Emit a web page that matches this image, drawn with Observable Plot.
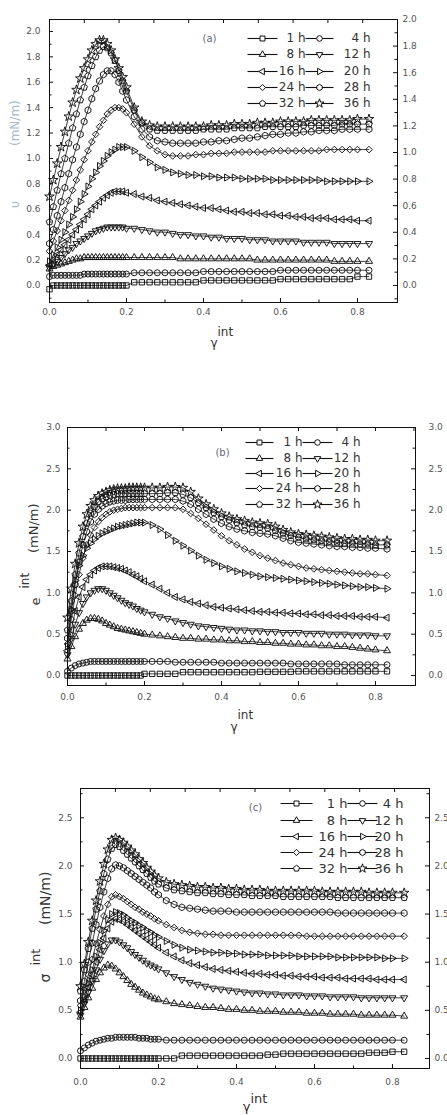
<!DOCTYPE html>
<html><head><meta charset="utf-8">
<script src="https://cdn.jsdelivr.net/npm/d3@7"></script>
<script src="https://cdn.jsdelivr.net/npm/@observablehq/plot@0.6"></script>
<style>
html,body{margin:0;padding:0;background:#fff;}
body{width:447px;height:1115px;overflow:hidden;}
#wrap{position:relative;width:447px;height:1115px;}
#wrap svg{position:absolute;left:0;max-width:none;overflow:visible;}
</style></head><body><div id="wrap"></div>
<script>
// ---------- shared x values (strain amplitude γ_int) ----------
const strain = [0,0.01,0.02,0.03,0.04,0.05,0.06,0.07,0.08,0.09,0.10,0.11,0.12,0.13,0.14,0.15,0.16,0.17,0.18,0.19,0.20,
  0.22,0.24,0.26,0.28,0.30,0.32,0.34,0.36,0.38,0.40,0.42,0.44,0.46,0.48,0.50,0.52,0.54,0.56,0.58,0.60,0.62,0.64,0.66,0.68,0.70,0.72,0.74,0.76,0.78,0.80,
  0.83];
const hours = ["1 h","4 h","8 h","12 h","16 h","20 h","24 h","28 h","32 h","36 h"];

// ---------- panel (a) ----------
const a1h = [-0.03,0,0,0,0,0,0,0,0,0,0,0,0,0,0,0,0,0,0,0,0,
  0.025,0.025,0.025,0.025,0.025,0.025,0.025,0.025,0.025,0.04,0.04,0.04,0.04,0.04,0.04,0.04,0.04,0.04,0.04,0.05,0.05,0.05,0.05,0.05,0.05,0.05,0.05,0.05,0.05,0.07,
  0.07];
const a4h = [0.07,0.08,0.08,0.08,0.08,0.08,0.08,0.08,0.08,0.09,0.09,0.09,0.09,0.09,0.09,0.09,0.09,0.09,0.09,0.09,0.09,
  0.10,0.10,0.10,0.10,0.10,0.10,0.10,0.10,0.10,0.11,0.11,0.11,0.11,0.11,0.11,0.11,0.11,0.11,0.11,0.12,0.12,0.12,0.12,0.12,0.12,0.12,0.12,0.12,0.12,0.12,
  0.12];
const a8h = [0.13,0.15,0.16,0.17,0.18,0.19,0.20,0.21,0.21,0.22,0.22,0.22,0.22,0.22,0.22,0.22,0.22,0.22,0.22,0.22,0.22,
  0.22,0.22,0.22,0.22,0.22,0.22,0.21,0.21,0.21,0.21,0.21,0.21,0.21,0.21,0.21,0.21,0.20,0.20,0.20,0.20,0.20,0.20,0.20,0.20,0.20,0.20,0.19,0.19,0.19,0.19,
  0.19];
const a12h = [0.14,0.17,0.19,0.22,0.25,0.28,0.30,0.33,0.35,0.37,0.39,0.41,0.43,0.44,0.45,0.46,0.46,0.46,0.46,0.46,0.45,
  0.45,0.44,0.43,0.42,0.42,0.41,0.40,0.40,0.39,0.39,0.38,0.38,0.37,0.37,0.37,0.36,0.36,0.36,0.35,0.35,0.35,0.35,0.34,0.34,0.34,0.34,0.33,0.33,0.33,0.33,
  0.33];
const a16h = [0.16,0.20,0.24,0.28,0.32,0.36,0.40,0.44,0.48,0.52,0.56,0.60,0.63,0.66,0.69,0.71,0.73,0.74,0.74,0.74,0.73,
  0.72,0.70,0.69,0.67,0.66,0.65,0.64,0.63,0.62,0.61,0.61,0.60,0.59,0.58,0.58,0.57,0.57,0.56,0.56,0.55,0.55,0.54,0.54,0.53,0.53,0.53,0.52,0.52,0.52,0.51,
  0.51];
const a20h = [0.19,0.24,0.30,0.36,0.42,0.48,0.54,0.60,0.66,0.72,0.78,0.84,0.89,0.94,0.98,1.02,1.05,1.07,1.09,1.09,1.09,
  1.06,1.01,0.97,0.93,0.91,0.89,0.88,0.87,0.87,0.86,0.86,0.85,0.85,0.85,0.84,0.84,0.84,0.84,0.83,0.83,0.83,0.83,0.83,0.83,0.83,0.82,0.82,0.82,0.82,0.82,
  0.82];
const a24h = [0.27,0.35,0.43,0.51,0.59,0.67,0.75,0.83,0.91,0.99,1.06,1.13,1.19,1.25,1.30,1.35,1.38,1.40,1.40,1.39,1.36,
  1.27,1.17,1.10,1.06,1.03,1.02,1.02,1.02,1.03,1.03,1.04,1.04,1.04,1.05,1.05,1.05,1.05,1.05,1.06,1.06,1.06,1.06,1.06,1.06,1.06,1.07,1.07,1.07,1.07,1.07,
  1.07];
const a28h = [0.33,0.44,0.55,0.66,0.77,0.88,0.99,1.09,1.19,1.29,1.38,1.47,1.55,1.61,1.66,1.69,1.69,1.66,1.60,1.53,1.46,
  1.33,1.23,1.17,1.14,1.13,1.12,1.12,1.12,1.12,1.13,1.13,1.14,1.14,1.15,1.16,1.16,1.17,1.18,1.19,1.19,1.20,1.20,1.21,1.21,1.22,1.22,1.22,1.23,1.23,1.23,
  1.23];
const a32h = [0.50,0.62,0.75,0.88,1.00,1.12,1.24,1.35,1.46,1.56,1.65,1.73,1.80,1.85,1.88,1.87,1.83,1.77,1.69,1.61,1.53,
  1.38,1.28,1.23,1.22,1.22,1.22,1.22,1.22,1.22,1.23,1.23,1.23,1.23,1.24,1.24,1.24,1.24,1.25,1.25,1.25,1.25,1.25,1.26,1.26,1.26,1.26,1.26,1.27,1.27,1.27,
  1.27];
const a36h = [0.70,0.83,0.96,1.09,1.21,1.33,1.44,1.54,1.63,1.71,1.78,1.85,1.90,1.93,1.93,1.90,1.85,1.78,1.71,1.64,1.56,
  1.40,1.29,1.26,1.25,1.25,1.25,1.25,1.25,1.25,1.25,1.26,1.26,1.26,1.27,1.27,1.27,1.28,1.28,1.28,1.29,1.29,1.29,1.29,1.30,1.30,1.30,1.30,1.30,1.30,1.31,
  1.31];

// ---------- panel (b) ----------
const b1h = [0,0,0,0,0,0,0,0,0,0,0,0,0,0,0,0,0,0,0,0,0.02,
  0.02,0.02,0.02,0.02,0.04,0.04,0.04,0.04,0.04,0.04,0.04,0.04,0.04,0.04,0.045,0.045,0.045,0.045,0.045,0.05,0.05,0.05,0.05,0.05,0.05,0.05,0.05,0.05,0.05,0.05,
  0.05];
const b4h = [0.05,0.09,0.12,0.14,0.15,0.16,0.17,0.17,0.17,0.17,0.17,0.17,0.17,0.17,0.17,0.17,0.17,0.17,0.17,0.17,0.17,
  0.17,0.17,0.17,0.16,0.16,0.16,0.16,0.16,0.16,0.15,0.15,0.15,0.15,0.15,0.15,0.15,0.15,0.15,0.14,0.14,0.14,0.14,0.14,0.14,0.14,0.13,0.13,0.13,0.13,0.13,
  0.13];
const b8h = [0.20,0.35,0.47,0.56,0.63,0.67,0.69,0.69,0.68,0.66,0.63,0.61,0.59,0.57,0.56,0.55,0.54,0.53,0.52,0.51,0.50,
  0.49,0.48,0.47,0.46,0.45,0.45,0.44,0.44,0.43,0.43,0.42,0.42,0.41,0.41,0.40,0.40,0.39,0.39,0.38,0.38,0.37,0.37,0.36,0.36,0.35,0.35,0.34,0.33,0.32,0.31,
  0.30];
const b12h = [0.25,0.45,0.62,0.76,0.87,0.95,1.00,1.03,1.05,1.05,1.03,1.00,0.97,0.94,0.91,0.88,0.86,0.84,0.81,0.79,0.77,
  0.74,0.71,0.69,0.66,0.64,0.62,0.60,0.59,0.58,0.57,0.56,0.55,0.55,0.54,0.54,0.53,0.53,0.52,0.52,0.52,0.51,0.51,0.51,0.50,0.50,0.50,0.49,0.49,0.49,0.48,
  0.48];
const b16h = [0.30,0.55,0.78,0.95,1.07,1.16,1.22,1.27,1.30,1.32,1.32,1.32,1.31,1.30,1.29,1.27,1.25,1.22,1.20,1.17,1.14,
  1.10,1.05,1.00,0.95,0.92,0.89,0.87,0.85,0.83,0.82,0.81,0.80,0.79,0.78,0.77,0.77,0.76,0.76,0.75,0.75,0.74,0.74,0.73,0.73,0.72,0.72,0.72,0.71,0.71,0.71,
  0.70];
const b20h = [0.35,0.80,1.15,1.33,1.45,1.54,1.60,1.65,1.69,1.72,1.74,1.76,1.78,1.80,1.81,1.82,1.83,1.84,1.85,1.85,1.85,
  1.82,1.77,1.70,1.63,1.57,1.51,1.45,1.40,1.36,1.32,1.29,1.26,1.24,1.22,1.20,1.19,1.18,1.17,1.16,1.15,1.14,1.13,1.12,1.11,1.10,1.09,1.08,1.07,1.07,1.06,
  1.05];
const b24h = [0.38,0.68,0.97,1.22,1.42,1.58,1.70,1.79,1.86,1.91,1.95,1.98,2.00,2.01,2.02,2.03,2.03,2.03,2.03,2.03,2.03,
  2.03,2.03,2.03,2.03,2.01,1.96,1.90,1.83,1.76,1.69,1.63,1.58,1.53,1.49,1.45,1.42,1.39,1.36,1.34,1.32,1.30,1.29,1.28,1.27,1.26,1.25,1.24,1.23,1.23,1.22,
  1.21];
const b28h = [0.45,0.78,1.10,1.37,1.58,1.74,1.86,1.95,2.01,2.05,2.08,2.10,2.11,2.12,2.12,2.12,2.13,2.13,2.13,2.13,2.13,
  2.13,2.13,2.13,2.13,2.11,2.07,2.01,1.95,1.89,1.84,1.80,1.77,1.75,1.73,1.72,1.71,1.69,1.66,1.63,1.61,1.60,1.59,1.58,1.57,1.56,1.56,1.55,1.55,1.54,1.54,
  1.53];
const b32h = [0.55,0.90,1.22,1.48,1.68,1.84,1.96,2.04,2.10,2.14,2.16,2.18,2.19,2.20,2.20,2.20,2.20,2.20,2.20,2.20,2.20,
  2.20,2.20,2.21,2.21,2.19,2.15,2.09,2.03,1.97,1.92,1.88,1.85,1.82,1.80,1.79,1.78,1.75,1.72,1.69,1.67,1.65,1.64,1.63,1.62,1.61,1.60,1.60,1.59,1.59,1.58,
  1.58];
const b36h = [0.70,1.05,1.35,1.60,1.80,1.95,2.05,2.12,2.17,2.20,2.22,2.24,2.25,2.26,2.26,2.26,2.27,2.27,2.27,2.27,2.27,
  2.27,2.27,2.28,2.28,2.27,2.22,2.14,2.07,2.01,1.96,1.92,1.89,1.87,1.85,1.84,1.83,1.80,1.76,1.73,1.71,1.70,1.69,1.68,1.67,1.66,1.65,1.65,1.64,1.64,1.63,
  1.63];

// ---------- panel (c) ----------
const c1h = [0,0,0,0,0,0,0,0,0,0,0,0,0,0,0,0,0,0,0,0,0,
  0,0,0.03,0.03,0.03,0.03,0.03,0.03,0.03,0.03,0.03,0.03,0.03,0.04,0.04,0.05,0.05,0.05,0.05,0.05,0.05,0.05,0.05,0.05,0.05,0.05,0.06,0.06,0.06,0.07,
  0.07];
const c4h = [0.08,0.11,0.14,0.16,0.18,0.19,0.20,0.21,0.21,0.22,0.22,0.22,0.22,0.22,0.22,0.21,0.21,0.21,0.20,0.20,0.20,
  0.19,0.19,0.19,0.19,0.19,0.19,0.19,0.19,0.19,0.19,0.19,0.19,0.19,0.19,0.19,0.19,0.19,0.19,0.19,0.19,0.19,0.19,0.19,0.19,0.19,0.19,0.19,0.19,0.19,0.19,
  0.19];
const c8h = [0.43,0.53,0.63,0.73,0.82,0.89,0.94,0.97,0.96,0.93,0.89,0.85,0.81,0.77,0.74,0.71,0.68,0.66,0.64,0.62,0.61,
  0.59,0.57,0.56,0.55,0.54,0.53,0.53,0.52,0.51,0.51,0.50,0.50,0.49,0.49,0.49,0.48,0.48,0.48,0.47,0.47,0.47,0.46,0.46,0.46,0.46,0.45,0.45,0.45,0.45,0.45,
  0.44];
const c12h = [0.45,0.57,0.69,0.81,0.92,1.03,1.12,1.19,1.23,1.23,1.21,1.18,1.15,1.11,1.08,1.05,1.02,0.99,0.97,0.95,0.93,
  0.89,0.85,0.82,0.79,0.77,0.75,0.73,0.72,0.71,0.70,0.69,0.68,0.68,0.67,0.67,0.66,0.66,0.66,0.65,0.65,0.65,0.64,0.64,0.64,0.64,0.63,0.63,0.63,0.63,0.63,
  0.63];
const c16h = [0.48,0.61,0.74,0.87,1.00,1.13,1.25,1.35,1.42,1.45,1.44,1.42,1.39,1.36,1.33,1.30,1.27,1.24,1.21,1.18,1.15,
  1.10,1.06,1.02,0.99,0.97,0.95,0.93,0.92,0.91,0.90,0.89,0.88,0.88,0.87,0.87,0.86,0.86,0.85,0.85,0.85,0.84,0.84,0.84,0.83,0.83,0.83,0.83,0.82,0.82,0.82,
  0.82];
const c20h = [0.50,0.64,0.78,0.92,1.06,1.20,1.33,1.44,1.50,1.52,1.51,1.49,1.46,1.43,1.41,1.38,1.36,1.33,1.31,1.28,1.26,
  1.22,1.18,1.15,1.13,1.12,1.11,1.10,1.10,1.09,1.09,1.08,1.08,1.08,1.07,1.07,1.07,1.07,1.06,1.06,1.06,1.06,1.06,1.05,1.05,1.05,1.05,1.05,1.05,1.04,1.04,
  1.04];
const c24h = [0.55,0.71,0.87,1.03,1.19,1.34,1.48,1.60,1.68,1.70,1.68,1.66,1.63,1.60,1.57,1.55,1.52,1.50,1.48,1.45,1.43,
  1.39,1.36,1.33,1.31,1.30,1.29,1.29,1.28,1.28,1.28,1.28,1.28,1.28,1.28,1.28,1.28,1.28,1.28,1.27,1.27,1.27,1.27,1.27,1.27,1.27,1.27,1.27,1.27,1.27,1.27,
  1.27];
const c28h = [0.60,0.80,1.00,1.20,1.39,1.57,1.73,1.87,1.97,2.01,2.00,1.98,1.95,1.92,1.89,1.86,1.83,1.80,1.77,1.73,1.70,
  1.64,1.60,1.57,1.56,1.55,1.54,1.53,1.53,1.53,1.52,1.52,1.52,1.52,1.52,1.52,1.52,1.52,1.52,1.52,1.52,1.52,1.52,1.51,1.51,1.51,1.51,1.51,1.51,1.51,1.51,
  1.51];
const c32h = [0.70,0.92,1.14,1.35,1.55,1.74,1.92,2.07,2.18,2.22,2.20,2.16,2.12,2.08,2.04,2.00,1.96,1.92,1.88,1.84,1.81,
  1.77,1.75,1.74,1.73,1.72,1.72,1.71,1.71,1.70,1.70,1.70,1.69,1.69,1.69,1.69,1.68,1.68,1.68,1.68,1.68,1.68,1.68,1.67,1.67,1.67,1.67,1.67,1.67,1.67,1.67,
  1.67];
const c36h = [0.75,0.98,1.21,1.43,1.64,1.84,2.02,2.17,2.27,2.29,2.27,2.24,2.20,2.16,2.12,2.07,2.03,1.98,1.94,1.90,1.87,
  1.83,1.81,1.80,1.79,1.78,1.78,1.77,1.77,1.76,1.76,1.75,1.75,1.75,1.74,1.74,1.74,1.74,1.74,1.74,1.74,1.73,1.73,1.73,1.73,1.73,1.73,1.72,1.72,1.72,1.72,
  1.72];

// ---------- tick values ----------
const xMajor = [0, 0.2, 0.4, 0.6, 0.8];
const xMinor = [0.1, 0.3, 0.5, 0.7];
const yMajorA = [0,0.2,0.4,0.6,0.8,1.0,1.2,1.4,1.6,1.8,2.0];
const yMinorA = [-0.1,0.1,0.3,0.5,0.7,0.9,1.1,1.3,1.5,1.7,1.9];
const yMajorB = [0,0.5,1.0,1.5,2.0,2.5,3.0];
const yMinorB = [0.25,0.75,1.25,1.75,2.25,2.75];
const yMajorC = [0,0.5,1.0,1.5,2.0,2.5];
const yMinorC = [0.25,0.75,1.25,1.75,2.25,2.75];
const topSteps = [1,2,3,4,5,6,7,8,9];

// ---------- marker symbols ----------
const poly = (n, rot, k) => ({
  draw(ctx, size) {
    const r = Math.sqrt(size / Math.PI) * k;
    for (let i = 0; i < n; i++) {
      const a = rot + i * 2 * Math.PI / n;
      const px = r * Math.sin(a), py = -r * Math.cos(a);
      if (i) ctx.lineTo(px, py); else ctx.moveTo(px, py);
    }
    ctx.closePath();
  }
});
const SYM = {
  "1 h": d3.symbolSquare, "4 h": d3.symbolCircle,
  "8 h": poly(3, 0, 1.35), "12 h": poly(3, Math.PI, 1.35),
  "16 h": poly(3, -Math.PI / 2, 1.35), "20 h": poly(3, Math.PI / 2, 1.35),
  "24 h": d3.symbolDiamond2, "28 h": poly(6, 0, 1.12), "32 h": poly(5, 0, 1.15), "36 h": d3.symbolStar
};

function makePanel(c) {
  const fw = c.W - c.ml - c.mr, fh = c.H - c.mt - c.mb;
  const PX = px => c.xmax * (px - c.ml) / fw;
  const PY = py => c.ymax - (c.ymax - c.ymin) * (py - c.mt) / fh;
  const ink = "#111";
  const marks = [];
  // inward ticks
  marks.push(Plot.tickX(xMajor, {x: d => d, insetTop: fh - 4, stroke: ink}));
  marks.push(Plot.tickX(xMinor, {x: d => d, insetTop: fh - 2.5, stroke: ink}));
  marks.push(Plot.tickX(c.topTicks, {x: d => d, insetBottom: fh - 4, stroke: ink}));
  marks.push(Plot.tickY(c.yMajor, {y: d => d, insetRight: fw - 4, stroke: ink}));
  marks.push(Plot.tickY(c.yMinor, {y: d => d, insetRight: fw - 2.5, stroke: ink}));
  marks.push(Plot.tickY(c.yMajor.map(v => v * c.rk), {y: d => d, insetLeft: fw - 4, stroke: ink}));
  marks.push(Plot.tickY(c.yMinor.map(v => v * c.rk).filter(v => v < c.ymax), {y: d => d, insetLeft: fw - 2.5, stroke: ink}));
  // tick labels
  const lab = {tickSize: 0, label: null, fill: "#555", fontSize: 9};
  marks.push(Plot.axisX(xMajor, {...lab, anchor: "bottom", tickPadding: c.xPad, tickFormat: d => d.toFixed(1)}));
  marks.push(Plot.axisY(c.yMajor, {...lab, anchor: "left", tickPadding: c.lPad, tickFormat: d => d.toFixed(1)}));
  marks.push(Plot.axisY(c.yMajor.map(v => v * c.rk), {...lab, anchor: "right", tickPadding: c.rPad, tickFormat: d => (d / c.rk).toFixed(1)}));
  // data
  c.series.forEach((vals, i) => {
    const pts = strain.map((x, j) => ({x, y: vals[j]}));
    marks.push(Plot.line(pts, {x: "x", y: "y", stroke: "#111", strokeWidth: 0.8}));
    marks.push(Plot.dot(pts, {x: "x", y: "y", symbol: SYM[hours[i]], r: 3, fill: "none", stroke: "#111", strokeWidth: 0.95}));
  });
  // legend
  const leg = hours.map((h, i) => {
    const col = c.leg.cols[i % 2], row = c.leg.rows[Math.floor(i / 2)];
    return {h, x1: PX(col[0]), x2: PX(col[1]), xm: PX(col[2]), xt: PX(col[3]), y: PY(row)};
  });
  marks.push(Plot.link(leg, {x1: "x1", x2: "x2", y1: "y", y2: "y", stroke: "#111", strokeWidth: 1.1}));
  leg.forEach(d => marks.push(Plot.dot([d], {x: "xm", y: "y", symbol: SYM[d.h], r: 2.8, fill: "white", stroke: "#111", strokeWidth: 1})));
  marks.push(Plot.text(leg, {x: "xt", y: "y", text: "h", textAnchor: "end", fontSize: c.leg.fs, fill: "#333"}));
  marks.push(Plot.text([c.tag], {x: d => PX(d.x), y: d => PY(d.y), text: d => d.t, fontSize: 10, fill: "#667"}));
  // axis titles
  c.xlab.forEach(t => marks.push(Plot.text([t.t], {text: d => d, frameAnchor: "bottom", dx: t.dx, dy: t.dy, textAnchor: t.a, fontSize: t.fs, fill: "#333"})));
  c.ylab.forEach(t => marks.push(Plot.text([t.t], {text: d => d, frameAnchor: "left", rotate: -90, dx: t.dx, dy: t.dy, fontSize: t.fs, fill: t.fill || "#333"})));
  marks.push(Plot.frame({stroke: ink, strokeWidth: 1}));
  const svg = Plot.plot({
    width: c.W, height: c.H,
    marginTop: c.mt, marginRight: c.mr, marginBottom: c.mb, marginLeft: c.ml,
    x: {domain: [0, c.xmax], axis: null},
    y: {domain: [c.ymin, c.ymax], axis: null},
    style: {fontFamily: "DejaVu Sans", fontSize: "9px", background: "transparent", overflow: "visible"},
    marks
  });
  svg.style.top = c.top + "px";
  return svg;
}

const xmaxA = 0.904, xmaxB = 0.904, xmaxC = 0.895;
const panels = [
  {top: 0, W: 447, H: 370, mt: 19, mr: 50, mb: 68, ml: 49, xmax: xmaxA, ymin: -0.134, ymax: 2.094,
   rk: 2.094 / 2.0, xPad: 6, lPad: 9, rPad: 5,
   yMajor: yMajorA, yMinor: yMinorA, topTicks: topSteps.map(k => k * xmaxA / 10),
   series: [a1h, a4h, a8h, a12h, a16h, a20h, a24h, a28h, a32h, a36h],
   leg: {cols: [[247, 277, 262, 305], [305, 333, 319, 370]], rows: [38, 54, 71, 87, 103], fs: 12},
   tag: {t: "(a)", x: 209, y: 38},
   xlab: [{t: "γ", dx: -6, dy: 44, a: "end", fs: 12}, {t: "int", dx: -6, dy: 33, a: "start", fs: 12}],
   ylab: [{t: "(mN/m)", dx: -34, dy: -15, fs: 12, fill: "#a9b8cc"}, {t: "υ", dx: -34, dy: 47, fs: 12, fill: "#a9b8cc"}]},
  {top: 370, W: 447, H: 370, mt: 57, mr: 32, mb: 55, ml: 67, xmax: xmaxB, ymin: -0.121, ymax: 3.0,
   rk: 1, xPad: 8, lPad: 7, rPad: 13,
   yMajor: yMajorB, yMinor: yMinorB, topTicks: topSteps.map(k => k / 10),
   series: [b1h, b4h, b8h, b12h, b16h, b20h, b24h, b28h, b32h, b36h],
   leg: {cols: [[245, 273, 259, 302], [302, 332, 317, 360]], rows: [72, 88, 103, 118, 134], fs: 12},
   tag: {t: "(b)", x: 222, y: 82},
   xlab: [{t: "γ", dx: -4, dy: 45, a: "end", fs: 12}, {t: "int", dx: -4, dy: 33, a: "start", fs: 12}],
   ylab: [{t: "(mN/m)", dx: -34, dy: -3.5, fs: 13}, {t: "int", dx: -42, dy: 32, fs: 12}, {t: "e", dx: -32, dy: 49, fs: 13}]},
  {top: 740, W: 447, H: 375, mt: 48, mr: 18, mb: 47, ml: 80, xmax: xmaxC, ymin: -0.104, ymax: 2.804,
   rk: 1, xPad: 10, lPad: 8, rPad: 5,
   yMajor: yMajorC, yMinor: yMinorC, topTicks: topSteps.map(k => k * xmaxC / 10),
   series: [c1h, c4h, c8h, c12h, c16h, c20h, c24h, c28h, c32h, c36h],
   leg: {cols: [[280, 312, 296, 347], [347, 377, 362, 403]], rows: [63, 80, 96, 112, 128], fs: 13},
   tag: {t: "(c)", x: 255, y: 67},
   xlab: [{t: "γ", dx: -4.5, dy: 42, a: "end", fs: 13}, {t: "int", dx: -4.5, dy: 34, a: "start", fs: 13}],
   ylab: [{t: "(mN/m)", dx: -35, dy: -3.5, fs: 14}, {t: "int", dx: -45, dy: 37, fs: 13}, {t: "σ", dx: -35, dy: 54, fs: 14}]}
];
const wrap = document.getElementById("wrap");
panels.forEach(p => wrap.appendChild(makePanel(p)));
</script></body></html>
